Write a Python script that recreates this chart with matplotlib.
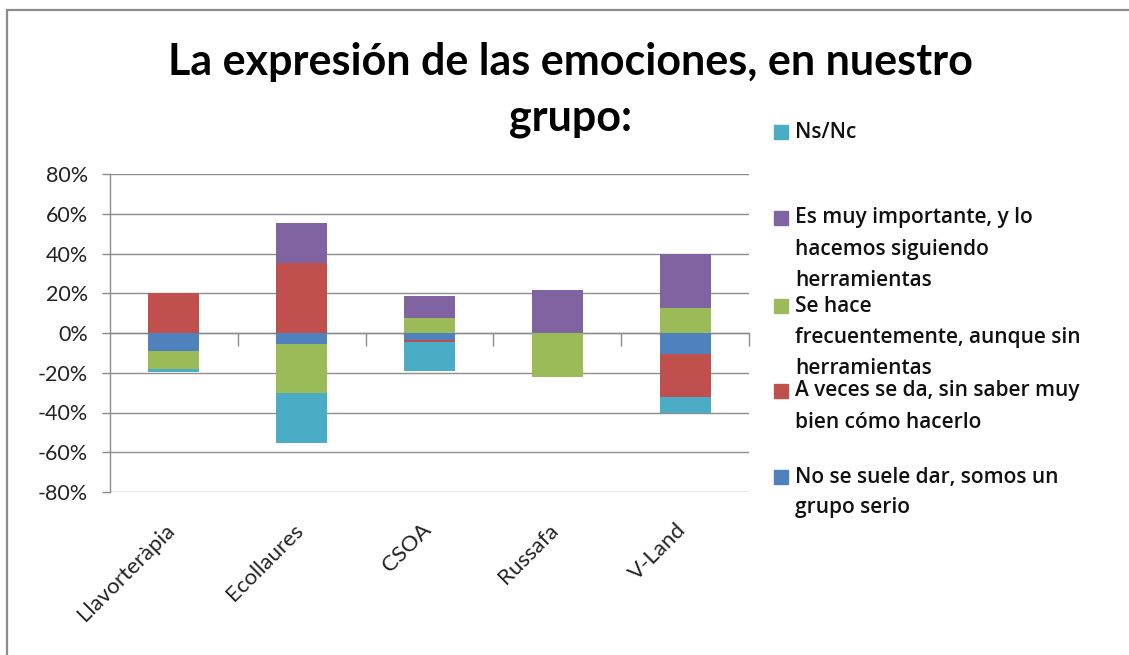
import matplotlib
matplotlib.use("Agg")
import matplotlib.pyplot as plt
import matplotlib.transforms as mtransforms
from matplotlib.patches import Rectangle
from matplotlib.ticker import FuncFormatter, MultipleLocator

# ---------------- data ----------------
categories = ["Llavorteràpia", "Ecollaures", "CSOA", "Russafa", "V-Land"]
series_labels = [
    "No se suele dar, somos un\ngrupo serio",
    "A veces se da, sin saber muy\nbien cómo hacerlo",
    "Se hace\nfrecuentemente, aunque sin\nherramientas",
    "Es muy importante, y lo\nhacemos siguiendo\nherramientas",
    "Ns/Nc",
]
no_se_suele = [-9, -5.4, -3.4, 0, -10.4]
a_veces = [20, 35, -1.3, 0, -22]
se_hace = [-9.2, -24.6, 7.7, -22, 12.5]
es_muy = [0, 20.4, 10.9, 21.8, 27]
ns_nc = [-1.2, -25.3, -14.2, 0, -7.7]
series_values = [no_se_suele, a_veces, se_hace, es_muy, ns_nc]
colors = ["#4F81BD", "#C0504D", "#9BBB59", "#8064A2", "#4BACC6"]
title = "La expresión de las emociones, en nuestro\ngrupo:"

# ---------------- figure ----------------
W, H = 1129, 655
fig = plt.figure(figsize=(W / 100, H / 100), dpi=100)
FONT = "Lato"
LEG_FONT = "Open Sans"

def fx(px):
    return px / W

def fy(py):
    return 1 - py / H

# chart border (extends past right/bottom edges)
fig.patches.append(Rectangle((fx(7), fy(700)), fx(1200), fy(10) - fy(700),
                             transform=fig.transFigure, fill=False,
                             edgecolor="#8C8C8C", linewidth=1.6))

ax = fig.add_axes([fx(110), fy(492), fx(749) - fx(110), fy(174) - fy(492)])
x = list(range(len(categories)))

pos_base = [0.0] * len(categories)
neg_base = [0.0] * len(categories)
for vals, col in zip(series_values, colors):
    bottoms = []
    for i, v in enumerate(vals):
        if v >= 0:
            bottoms.append(pos_base[i])
            pos_base[i] += v
        else:
            bottoms.append(neg_base[i])
            neg_base[i] += v
    ax.bar(x, vals, bottom=bottoms, width=0.40, color=col, zorder=3, linewidth=0)

ax.set_xlim(-0.5, len(categories) - 0.5)
ax.set_ylim(-80, 80)
ax.yaxis.set_major_locator(MultipleLocator(20))
ax.yaxis.set_major_formatter(FuncFormatter(lambda v, p: f"{v:.0f}%"))
ax.grid(axis="y", color="#8C8C8C", linewidth=1.0, zorder=0)
for s in ["top", "right", "bottom"]:
    ax.spines[s].set_visible(False)
ax.spines["left"].set_color("#8C8C8C")
ax.spines["left"].set_linewidth(1.0)
ax.tick_params(axis="y", length=6, width=1.0, color="#8C8C8C", pad=10,
               labelsize=15.5, labelcolor="#222222")
for lab in ax.get_yticklabels():
    lab.set_fontfamily(FONT)

ax.set_xticks(x)
ax.set_xticklabels(categories, rotation=45, ha="right", va="top",
                   rotation_mode="anchor", fontsize=16, fontfamily=FONT,
                   color="#222222")
ax.tick_params(axis="x", length=0, pad=20)
offset = mtransforms.ScaledTranslation(-0.09, 0, fig.dpi_scale_trans)
for lab in ax.get_xticklabels():
    lab.set_transform(lab.get_transform() + offset)

# category boundary tick marks on the zero line (pointing down)
sec = ax.secondary_xaxis(0.5)
sec.set_alignment("bottom")
sec.set_xticks([i + 0.5 for i in x])
sec.set_xticklabels([])
sec.tick_params(axis="x", length=9, width=1.0, color="#8C8C8C", direction="out")
sec.spines["bottom"].set_color("#8C8C8C")
sec.spines["bottom"].set_linewidth(1.0)

# title (one text per line)
for k, line in enumerate(title.split("\n")):
    fig.text(fx(570), fy(62 + 56 * k), line, ha="center", va="center",
             fontsize=31, fontweight="bold", fontfamily=FONT, color="black")

# legend (manual, reversed order like Excel)
entry_y = [132, 218, 306, 391, 477]
line_h = 31
order = list(range(len(series_labels)))[::-1]
for yy, idx in zip(entry_y, order):
    lines = series_labels[idx].split("\n")
    fig.patches.append(Rectangle((fx(774), fy(yy + 7)), fx(14), fy(yy - 7) - fy(yy + 7),
                                 transform=fig.transFigure, color=colors[idx]))
    for k, ln in enumerate(lines):
        fig.text(fx(795), fy(yy + k * line_h), ln, ha="left", va="center",
                 fontsize=15, fontweight="semibold", fontfamily=LEG_FONT,
                 color="#111111")

fig.savefig("out.png", dpi=100)
